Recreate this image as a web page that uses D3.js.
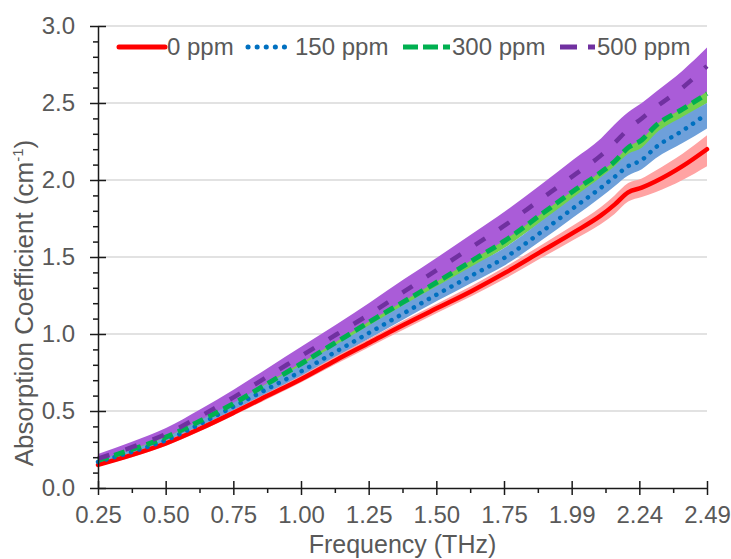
<!DOCTYPE html>
<html>
<head>
<meta charset="utf-8">
<script src="https://cdn.jsdelivr.net/npm/d3@7"></script>
<style>
  body { margin: 0; background: #fff; }
  text { font-family: "Liberation Sans", Arial, sans-serif; }
</style>
</head>
<body>
<div id="chart"></div>
<script>
// Frequency samples (THz)
const freq = [0.25, 0.375, 0.50, 0.625, 0.75, 0.875, 1.00, 1.125, 1.25, 1.375, 1.50, 1.625, 1.75, 1.875, 2.00, 2.10, 2.15, 2.20, 2.25, 2.30, 2.40, 2.49];

// 0 ppm
const red   = [0.15, 0.215, 0.29, 0.385, 0.49, 0.60, 0.71, 0.83, 0.945, 1.06, 1.17, 1.28, 1.40, 1.53, 1.66, 1.77, 1.84, 1.92, 1.95, 1.99, 2.09, 2.20];
const redLo = [0.14, 0.2, 0.275, 0.368, 0.472, 0.58, 0.688, 0.805, 0.918, 1.03, 1.14, 1.247, 1.362, 1.488, 1.612, 1.715, 1.78, 1.86, 1.89, 1.92, 2.00, 2.09];
const redHi = [0.162, 0.23, 0.307, 0.402, 0.508, 0.62, 0.732, 0.855, 0.972, 1.09, 1.20, 1.313, 1.438, 1.572, 1.708, 1.825, 1.90, 1.98, 2.01, 2.06, 2.17, 2.29];

// 150 ppm
const blue   = [0.17, 0.235, 0.31, 0.415, 0.53, 0.645, 0.76, 0.885, 1.01, 1.135, 1.26, 1.38, 1.50, 1.655, 1.82, 1.95, 2.02, 2.09, 2.13, 2.21, 2.32, 2.43];
const blueLo = [0.16, 0.222, 0.292, 0.393, 0.503, 0.615, 0.727, 0.85, 0.972, 1.095, 1.217, 1.333, 1.45, 1.60, 1.76, 1.89, 1.96, 2.03, 2.07, 2.14, 2.24, 2.335];
const blueHi = [0.18, 0.25, 0.33, 0.44, 0.56, 0.68, 0.80, 0.93, 1.06, 1.19, 1.315, 1.44, 1.565, 1.725, 1.89, 2.02, 2.09, 2.17, 2.21, 2.30, 2.41, 2.50];

// 300 ppm
const green   = [0.18, 0.25, 0.33, 0.435, 0.55, 0.68, 0.81, 0.945, 1.08, 1.21, 1.34, 1.475, 1.61, 1.77, 1.93, 2.05, 2.12, 2.21, 2.26, 2.35, 2.46, 2.56];
const greenLo = [0.17, 0.237, 0.315, 0.417, 0.528, 0.655, 0.782, 0.913, 1.045, 1.172, 1.30, 1.432, 1.565, 1.72, 1.875, 1.99, 2.06, 2.15, 2.20, 2.29, 2.40, 2.50];
const greenHi = [0.19, 0.263, 0.345, 0.453, 0.572, 0.705, 0.838, 0.977, 1.115, 1.248, 1.38, 1.518, 1.655, 1.82, 1.985, 2.11, 2.18, 2.27, 2.32, 2.41, 2.52, 2.60];

// 500 ppm
const purple   = [0.19, 0.265, 0.35, 0.465, 0.59, 0.725, 0.86, 0.995, 1.13, 1.275, 1.42, 1.565, 1.71, 1.87, 2.03, 2.16, 2.24, 2.33, 2.40, 2.47, 2.60, 2.74];
const purpleLo = [0.18, 0.253, 0.333, 0.44, 0.555, 0.685, 0.815, 0.95, 1.085, 1.215, 1.345, 1.48, 1.615, 1.775, 1.935, 2.055, 2.125, 2.215, 2.265, 2.355, 2.465, 2.575];
const purpleHi = [0.22, 0.3, 0.39, 0.51, 0.64, 0.78, 0.92, 1.06, 1.205, 1.355, 1.50, 1.65, 1.80, 1.965, 2.135, 2.27, 2.36, 2.44, 2.50, 2.57, 2.71, 2.86];

const xTickLabels = ["0.25", "0.50", "0.75", "1.00", "1.25", "1.50", "1.75", "1.99", "2.24", "2.49"];
const yTicks = [0, 0.5, 1.0, 1.5, 2.0, 2.5, 3.0];
const legendLabels = ["0 ppm", "150 ppm", "300 ppm", "500 ppm"];

const W = 731, H = 559;
const plotLeft = 98, plotRight = 707, plotTop = 26, plotBottom = 488;

const svg = d3.select("#chart").append("svg")
  .attr("width", W).attr("height", H);

const x = d3.scaleLinear().domain([0.25, 2.49]).range([plotLeft, plotRight]);
const y = d3.scaleLinear().domain([0, 3]).range([plotBottom, plotTop]);

// tick positions: labels are evenly spaced across the domain
const step = (2.49 - 0.25) / (xTickLabels.length - 1);
const xMajor = xTickLabels.map((d, i) => 0.25 + i * step);
const xMinor = xMajor.slice(1).map(v => v - step / 2);
const yMinor = d3.range(0, 31).map(i => i / 10).filter(v => Math.round(v * 10) % 5 !== 0);

// gridlines
svg.append("g").selectAll("line")
  .data(yTicks.filter(v => v > 0))
  .join("line")
  .attr("x1", plotLeft).attr("x2", plotRight)
  .attr("y1", d => y(d)).attr("y2", d => y(d))
  .attr("stroke", "#d9d9d9").attr("stroke-width", 1.5);

// series definitions
const series = [
  {name: legendLabels[0], mean: red, lo: redLo, hi: redHi, line: "#ff0000", band: "#ffa3a3", width: 4.5, dash: null, cap: "round", legDash: null},
  {name: legendLabels[1], mean: blue, lo: blueLo, hi: blueHi, line: "#0070c0", band: "#6ea0da", width: 4.5, dash: "0.1 8.5", cap: "round", legDash: "0.1 9"},
  {name: legendLabels[2], mean: green, lo: greenLo, hi: greenHi, line: "#00b050", band: "#72d14c", width: 5, dash: "11 6", cap: "butt", legDash: "15 5"},
  {name: legendLabels[3], mean: purple, lo: purpleLo, hi: purpleHi, line: "#7030a0", band: "#aa5cd8", width: 4.5, dash: "12 17", cap: "butt", legDash: "17 11"}
];

const area = d3.area()
  .x((d, i) => x(freq[i]))
  .curve(d3.curveMonotoneX);

// bands: green first so purple and blue cover its edges
[2, 1, 3, 0].forEach(k => {
  const s = series[k];
  svg.append("path")
    .datum(freq)
    .attr("fill", s.band)
    .attr("d", area.y0((d, i) => y(s.lo[i])).y1((d, i) => y(s.hi[i])));
});

const line = d3.line()
  .x((d, i) => x(freq[i]))
  .curve(d3.curveMonotoneX);

series.forEach(s => {
  svg.append("path")
    .datum(s.mean)
    .attr("fill", "none")
    .attr("stroke", s.line)
    .attr("stroke-width", s.width)
    .attr("stroke-linecap", s.cap)
    .attr("stroke-dasharray", s.dash)
    .attr("d", line.y(d => y(d)));
});

// x axis
const axisColor = "#1a1a1a";
const labelColor = "#595959";

const gx = svg.append("g").attr("transform", `translate(0,${plotBottom})`);
gx.call(d3.axisBottom(x).tickValues(xMajor).tickFormat((d, i) => xTickLabels[i]).tickSize(7).tickSizeOuter(0));
gx.select(".domain").attr("stroke", axisColor).attr("stroke-width", 1.5);
gx.selectAll(".tick line").attr("y1", -7).attr("stroke", axisColor).attr("stroke-width", 1.5);
gx.selectAll(".tick text")
  .attr("y", 18).attr("dy", "0.71em")
  .attr("fill", labelColor).style("font-size", "24px")
  .style("font-family", "'Liberation Sans', Arial, sans-serif");

const gxm = svg.append("g").attr("transform", `translate(0,${plotBottom})`);
gxm.call(d3.axisBottom(x).tickValues(xMinor).tickFormat("").tickSize(5));
gxm.select(".domain").remove();
gxm.selectAll(".tick line").attr("stroke", axisColor).attr("stroke-width", 1.5);

// y axis
const gy = svg.append("g").attr("transform", `translate(${plotLeft},0)`);
gy.call(d3.axisLeft(y).tickValues(yTicks).tickFormat(d3.format(".1f")).tickSize(8).tickSizeOuter(0));
gy.select(".domain").attr("stroke", axisColor).attr("stroke-width", 1.5);
gy.selectAll(".tick line").attr("x1", 8).attr("stroke", axisColor).attr("stroke-width", 1.5);
gy.selectAll(".tick text")
  .attr("x", -23)
  .attr("fill", labelColor).style("font-size", "24px")
  .style("font-family", "'Liberation Sans', Arial, sans-serif");

const gym = svg.append("g").attr("transform", `translate(${plotLeft},0)`);
gym.call(d3.axisLeft(y).tickValues(yMinor).tickFormat("").tickSize(5));
gym.select(".domain").remove();
gym.selectAll(".tick line").attr("stroke", axisColor).attr("stroke-width", 1.5);

// axis titles
svg.append("text")
  .attr("x", (plotLeft + plotRight) / 2).attr("y", 553)
  .attr("text-anchor", "middle")
  .attr("fill", labelColor).style("font-size", "25px")
  .text("Frequency (THz)");

const yt = svg.append("text")
  .attr("transform", "translate(33,303) rotate(-90)")
  .attr("text-anchor", "middle")
  .attr("fill", labelColor).style("font-size", "26px");
yt.append("tspan").text("Absorption Coefficient (cm");
yt.append("tspan").attr("dy", -10).style("font-size", "15px").text("-1");
yt.append("tspan").attr("dy", 10).text(")");

// legend
const legendX = [119, 248, 403, 560];
const legendW = [46, 45, 47, 35];
const legendY = 47;
series.forEach((s, i) => {
  const g = svg.append("g");
  g.append("line")
    .attr("x1", legendX[i]).attr("x2", legendX[i] + legendW[i])
    .attr("y1", legendY).attr("y2", legendY)
    .attr("stroke", s.line)
    .attr("stroke-width", 5)
    .attr("stroke-linecap", s.cap)
    .attr("stroke-dasharray", s.legDash);
  g.append("text")
    .attr("x", legendX[i] + legendW[i] + 2).attr("y", legendY)
    .attr("dy", "0.35em")
    .attr("fill", labelColor).style("font-size", "24px")
    .text(s.name);
});
</script>
</body>
</html>
